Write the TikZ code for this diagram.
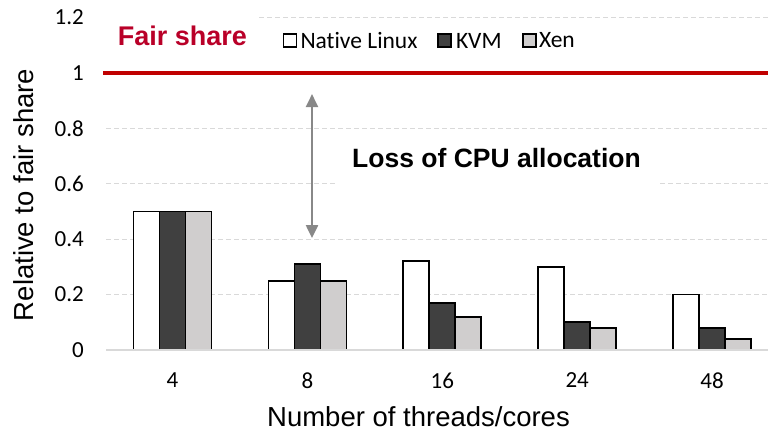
\documentclass[tikz,border=0pt]{standalone}
\usepackage{fontspec}
\setmainfont{Liberation Sans}
\newfontfamily\calibfont[Ligatures=NoCommon]{Carlito}
\usetikzlibrary{arrows.meta, positioning}

\definecolor{fairred}{RGB}{192,0,0}
\definecolor{fairtext}{RGB}{185,0,40}
\definecolor{gridgray}{RGB}{217,217,217}
\definecolor{kvmgray}{RGB}{64,64,64}
\definecolor{xengray}{RGB}{208,206,206}
\definecolor{arrowgray}{RGB}{136,136,136}

\begin{document}
\begin{tikzpicture}[
            x = 1pt, y = 1pt, % one unit per pixel
            > = {Triangle[width=12pt, length=13pt]}, % arrow head style
            gridline/.style = {gridgray, line width=1.3pt, dash pattern=on 5pt off 3pt},
            bar/.style = {draw=black, line width=1.8pt},
            ticklabel/.style = {font=\calibfont\fontsize{23}{26}\selectfont, inner sep=0pt},
            legbox/.style = {draw=black, line width=1.6pt, minimum size=13pt, inner sep=0pt},
            legtext/.style = {font=\calibfont\fontsize{23.5}{26}\selectfont, inner sep=0pt}
        ]
        \useasboundingbox (0,0) rectangle (768,431);

        % data part: zero at y=81, 277 units for 1.0
        \begin{scope}[shift={(0,81)}, y=277pt]
            \foreach \v in {0.2, 0.4, 0.8}
                \draw[gridline] (106,\v) -- (768,\v);
            \draw[gridline] (106,0.6) -- (337,0.6);
            \draw[gridline] (660,0.6) -- (768,0.6);
            \draw[gridline] (259,1.2) -- (768,1.2);

            \foreach \v [count=\k] in {0, 0.2, 0.4, 0.6, 0.8, 1, 1.2}
                \node[ticklabel, anchor=east] (tick\k) at (84,\v) {\v};

            \foreach \i/\cat/\na/\kv/\xe in {0/4/0.5/0.5/0.5, 1/8/0.25/0.31/0.25,
                    2/16/0.32/0.17/0.12, 3/24/0.30/0.10/0.08, 4/48/0.20/0.08/0.04} {
                \pgfmathsetmacro\c{172.5+134.9*\i}
                \draw[bar, fill=white] (\c-39,0) rectangle (\c-13,\na);
                \draw[bar, fill=kvmgray] (\c-13,0) rectangle (\c+13,\kv);
                \draw[bar, fill=xengray] (\c+13,0) rectangle (\c+39,\xe);
                \node[ticklabel] (cat\i) at (\c,-0.11) {\cat};
            }
            \draw[gridgray, line width=2pt] (106,0) -- (768,0);

            % fair share line
            \draw[fairred, line width=3.5pt] (103,1) -- (768,1);

            \coordinate (atop) at (312,0.924);
            \coordinate (abot) at (312,0.404);
            \draw[<->, arrowgray, line width=2.2pt] (abot) -- (atop);
        \end{scope}

        \node[font=\bfseries\fontsize{27}{30}\selectfont, text=fairtext, anchor=base] (fair) at (182.5,385) {Fair share};
        \node[font=\bfseries\fontsize{26.5}{30}\selectfont, anchor=base] (loss) at (496.5,263) {Loss of CPU allocation};
        \node[font=\fontsize{27.5}{30}\selectfont, anchor=base, inner ysep=1pt] (xlabel) at (418.5,5) {Number of threads/cores};
        \node[font=\fontsize{27.5}{30}\selectfont, rotate=90, anchor=base] (ylabel) at (33,236) {Relative to fair share};

        % legend
        \node[legbox, fill=white] (lgnat) at (290,390.5) {};
        \node[legtext, right=3pt of lgnat] (lgnattext) {Native Linux};
        \node[legbox, fill=kvmgray] (lgkvm) at (444.5,390.5) {};
        \node[legtext, right=4pt of lgkvm] (lgkvmtext) {KVM};
        \node[legbox, fill=xengray] (lgxen) at (529.5,390.5) {};
        \node[legtext, right=2pt of lgxen] (lgxentext) {Xen};
    \end{tikzpicture}
\end{document}
